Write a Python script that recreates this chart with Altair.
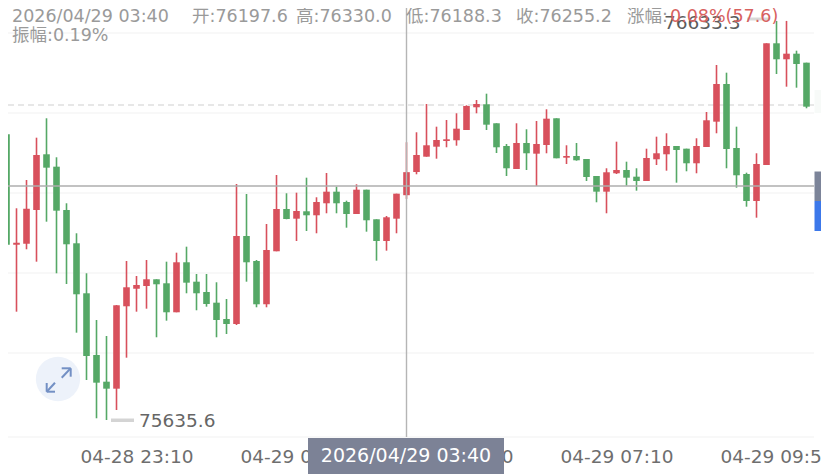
import altair as alt
import pandas as pd

# Candle values (10 minute candles starting 04-28 21:00)
opens = [76349.9,76073.9,76076.4,76160.6,76299.9,76268.9,76160.6,76077.4,75952.4,75798.1,
         75731.4,75713.9,75919.9,75963.9,75970.6,75987.4,75977.4,75904.9,76029.9,75981.4,
         75955.6,75928.9,75888.1,75875.6,76095.6,76033.1,75924.9,76057.4,76163.1,76138.9,
         76157.4,76147.4,76177.4,76206.4,76180.6,76150.6,76211.4,76137.4,76083.1,76138.9,
         76197.6,76255.6,76293.9,76318.9,76333.1,76334.9,76360.6,76417.4,76424.9,76377.4,
         76320.6,76263.1,76328.1,76301.4,76323.1,76389.9,76291.4,76295.6,76288.1,76245.6,
         76206.4,76252.4,76260.6,76243.9,76233.1,76287.4,76299.9,76320.6,76313.9,76277.4,
         76318.1,76381.4,76475.6,76315.6,76250.6,76183.1,76273.1,76577.4,76537.4,76551.4,
         76528.9]
closes = [76073.9,76078.9,76163.9,76298.1,76266.4,76158.9,76074.9,75949.9,75795.6,75728.9,
          75713.9,75922.4,75967.4,75973.1,75987.4,75974.9,75904.9,76029.9,75978.9,75952.4,
          75925.6,75885.6,75875.6,76095.6,76029.9,75924.9,76060.6,76163.1,76138.1,76158.1,
          76147.4,76180.6,76206.4,76177.4,76150.6,76211.4,76134.9,76083.1,76142.4,76201.4,
          76255.2,76298.1,76322.4,76335.6,76337.4,76363.9,76420.6,76425.6,76373.9,76317.4,
          76264.9,76328.1,76302.4,76325.6,76388.9,76289.9,76295.6,76284.9,76243.1,76206.4,
          76254.9,76260.6,76241.4,76233.1,76290.6,76302.4,76320.6,76310.6,76277.4,76320.6,
          76384.9,76475.6,76313.1,76247.4,76183.1,76275.6,76577.4,76537.4,76551.4,76525.6,
          76418.9]
highs = [76349.9,76164.9,76235.6,76341.4,76389.9,76292.4,76177.4,76102.4,76002.4,75885.6,
         75845.6,75923.1,76033.1,75995.6,76035.6,75987.4,76031.4,76053.9,76068.9,76000.6,
         76000.6,75979.9,75938.1,76225.6,76200.6,76035.6,76125.6,76248.1,76202.4,76203.9,
         76241.4,76192.4,76253.1,76218.9,76183.9,76224.9,76211.4,76137.4,76145.6,76201.4,
         76330.0,76354.9,76425.6,76368.9,76385.6,76402.4,76422.4,76435.6,76451.4,76377.4,
         76325.6,76377.4,76362.4,76383.1,76412.4,76389.9,76322.4,76328.1,76288.1,76245.6,
         76264.9,76331.4,76281.4,76264.9,76313.9,76343.9,76352.4,76320.6,76313.9,76339.9,
         76405.6,76523.1,76503.9,76368.9,76253.9,76302.4,76577.4,76633.3,76633.3,76558.9,
         76528.9]
lows = [76014.9,75906.4,76062.4,76031.4,76131.4,76002.4,75975.6,75853.9,75735.6,75639.9,
        75635.6,75660.6,75791.4,75906.4,75913.9,75842.4,75883.9,75904.9,75952.4,75909.9,
        75918.9,75842.4,75850.6,75873.1,75981.4,75917.4,75917.4,76057.4,76137.4,76083.1,
        76108.1,76102.4,76152.4,76152.4,76116.4,76150.6,76106.4,76033.9,76058.9,76102.4,
        76188.3,76249.9,76293.9,76288.9,76317.4,76321.4,76360.6,76402.4,76360.6,76303.1,
        76245.6,76263.1,76260.6,76220.6,76302.4,76289.9,76275.6,76283.9,76233.1,76179.9,
        76152.4,76250.6,76221.4,76208.9,76233.1,76273.1,76258.9,76228.9,76257.4,76252.4,
        76318.1,76352.4,76264.9,76216.4,76168.9,76141.4,76273.1,76500.6,76468.9,76466.4,
        76414.9]

grid_prices = [76603.1, 76403.1, 76203.1, 76003.1, 75803.1, 75593.1]
dashed_price = 76423.1
cross_price = 76220.6
cross_time = "2026-04-29 03:40"
tick_times = ["2026-04-28 23:10", "2026-04-29 01:50", "2026-04-29 04:30",
              "2026-04-29 07:10", "2026-04-29 09:50"]

GREEN, RED = "#55a866", "#d8505c"
FONT = "DejaVu Sans, 'Noto Sans CJK SC'"
GREY = "#9a9a9a"


def ms(stamp):
    return int(pd.Timestamp(stamp, tz="UTC").value // 10**6)


times = pd.date_range("2026-04-28 21:00", periods=len(opens), freq="10min")
df = pd.DataFrame({
    "t": [ms(t) for t in times],
    "open": opens, "close": closes, "high": highs, "low": lows,
})
df["up"] = df["close"] >= df["open"]

x_start, x_end = ms("2026-04-28 21:01:30"), ms("2026-04-29 10:34:30")
line_end = ms("2026-04-29 10:27:30")
x_scale = alt.Scale(type="utc", domain=[x_start, x_end], padding=0, nice=False)
y_scale = alt.Scale(domain=[75593.1, 76665.6], padding=0, nice=False, zero=False)
axis = alt.Axis(
    values=[ms(t) for t in tick_times],
    labelExpr="utcFormat(datum.value, '%m-%d %H:%M')",
    domain=False, ticks=False, grid=False, labelFontSize=18.5, labelFont=FONT,
    labelColor="#6e6e6e", labelPadding=10, labelOverlap=False, labelFlush=False, title=None,
)
X = alt.X("t:T", scale=x_scale, axis=axis)
Y = alt.Y("y:Q", scale=y_scale, axis=None)
color = alt.condition("datum.up", alt.value(RED), alt.value(GREEN))

grid_df = pd.DataFrame({"y": grid_prices, "a": x_start, "b": line_end})
grid = alt.Chart(grid_df).mark_rule(color="#f1f1f1", strokeWidth=1).encode(
    x=alt.X("a:T", scale=x_scale, axis=axis), x2="b:T", y=Y)

dashed = alt.Chart(pd.DataFrame({"y": [dashed_price], "a": x_start, "b": line_end})).mark_rule(
    color="#cfcfcf", strokeWidth=1, strokeDash=[6, 4]).encode(
    x=alt.X("a:T", scale=x_scale, axis=axis), x2="b:T", y=Y)

wicks = alt.Chart(df).mark_rule(strokeWidth=1.6, clip=True).encode(
    x=X, y=alt.Y("low:Q", scale=y_scale, axis=None), y2="high:Q", color=color)
bodies = alt.Chart(df).mark_bar(size=6.6, clip=True).encode(
    x=X, y=alt.Y("open:Q", scale=y_scale, axis=None), y2="close:Q", color=color)

h_cross = alt.Chart(pd.DataFrame({"y": [cross_price], "a": x_start, "b": line_end})).mark_rule(
    color="#aeaeae", strokeWidth=1.6).encode(
    x=alt.X("a:T", scale=x_scale, axis=axis), x2="b:T", y=Y)
v_cross = alt.Chart(pd.DataFrame({"t": [ms(cross_time)]})).mark_rule(
    color="#b5b5b5", strokeWidth=1.4).encode(x=X)


def px_rect(x1, x2, y1, y2, fill):
    return alt.Chart(pd.DataFrame({"k": [0]})).mark_rect(fill=fill, clip=False).encode(
        x=alt.value(x1 - 8), x2=alt.value(x2 - 8), y=alt.value(y1 - 8), y2=alt.value(y2 - 8))


def px_text(txt, x, y, size, col, align="left"):
    return alt.Chart(pd.DataFrame({"s": [txt]})).mark_text(
        font=FONT, fontSize=size, color=col, align=align, baseline="middle").encode(
        x=alt.value(x - 8), y=alt.value(y - 8), text="s:N")


def px_seg(x1, y1, x2, y2):
    return alt.Chart(pd.DataFrame({"k": [0]})).mark_rule(
        color="#7390c4", strokeWidth=2).encode(
        x=alt.value(x1 - 8), x2=alt.value(x2 - 8), y=alt.value(y1 - 8), y2=alt.value(y2 - 8))


icon_bg = alt.Chart(pd.DataFrame({"k": [0]})).mark_circle(
    size=1960, color="#edf2fa", opacity=1).encode(x=alt.value(58 - 8), y=alt.value(379 - 8))
icon = [icon_bg] + [px_seg(*s) for s in [
    (46.7, 391.7, 55, 382.7), (46.7, 383, 46.7, 391.7), (46.7, 391.7, 55, 391.7),
    (70.7, 368.3, 61.7, 377.7), (61.7, 368.3, 70.7, 368.3), (70.7, 368.3, 70.7, 376.7),
]]

HEADER_Y = 17
HEADER_SIZE = 17.5
ann = [
    px_rect(814.5, 821, 90, 113, "#f7faf8"),
    px_rect(814.5, 821, 171.5, 201, "#7c8499"),
    px_rect(814.5, 821, 201, 231, "#3c78ea"),
    px_rect(111, 134, 418.5, 422, "#d4d4d4"),
    px_rect(747, 770, 17.5, 20.5, "#d8d8d8"),
    px_text("75635.6", 139, 421, 18.5, "#666666"),
    px_text("76633.3", 664, 23, 18.5, "#5c5c5c"),
    px_text("2026/04/29 03:40", 12, HEADER_Y, HEADER_SIZE, GREY),
    px_text("开:76197.6", 192, HEADER_Y, HEADER_SIZE, GREY),
    px_text("高:76330.0", 296, HEADER_Y, HEADER_SIZE, GREY),
    px_text("低:76188.3", 406, HEADER_Y, HEADER_SIZE, GREY),
    px_text("收:76255.2", 516, HEADER_Y, HEADER_SIZE, GREY),
    px_text("涨幅:", 627, HEADER_Y, HEADER_SIZE, GREY),
    px_text("0.08%(57.6)", 670, HEADER_Y, HEADER_SIZE, "#d8625f"),
    px_text("振幅:0.19%", 12, 36, HEADER_SIZE, GREY),
    px_rect(308, 504, 438, 474, "#7c8296"),
    px_text("2026/04/29 03:40", 406, 456, 19, "#ffffff", "center"),
]

chart = alt.layer(grid, dashed, *icon, wicks, bodies, h_cross, v_cross, *ann).properties(
    width=813, height=429,
    padding={"left": 0, "top": 0, "right": 0, "bottom": 37},
    autosize=alt.AutoSizeParams(type="none"),
    background="#ffffff",
).configure_view(stroke=None)

chart.save("out.html", embed_options={"renderer": "svg", "actions": False})
